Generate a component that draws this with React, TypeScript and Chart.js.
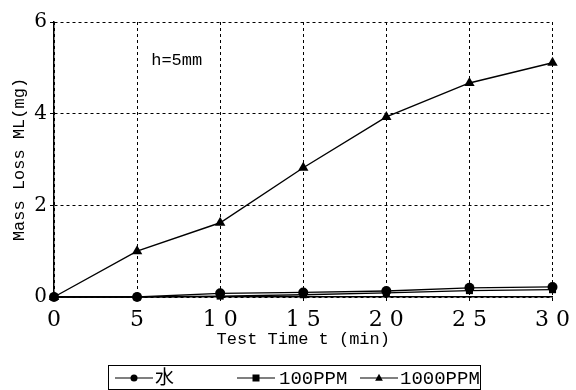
import React, { useEffect, useRef } from "react";
import { Chart, registerables } from "chart.js";

Chart.register(...registerables);

const times = [0, 5, 10, 15, 20, 25, 30];
const xTickLabels: Record<number, string> = { 0: "0", 5: "5", 10: "1 0", 15: "1 5", 20: "2 0", 25: "2 5", 30: "3 0" };
const waterValues = [0, 0, 0.08, 0.1, 0.13, 0.2, 0.22];
const ppm100Values = [0, 0, 0.02, 0.05, 0.09, 0.14, 0.16];
const ppm1000Values = [0, 1.0, 1.62, 2.82, 3.93, 4.67, 5.11];
const seriesNames = ["水", "100PPM", "1000PPM"];
const annotationText = "h=5mm";

const MONO = "'Liberation Mono', 'Noto Sans CJK JP', monospace";
const SERIF = "'DejaVu Serif', 'Liberation Serif', serif";

function drawMarker(ctx: CanvasRenderingContext2D, style: string, x: number, y: number, r: number) {
  ctx.beginPath();
  if (style === "circle") {
    ctx.arc(x, y, r, 0, Math.PI * 2);
  } else if (style === "rect") {
    ctx.rect(x - r, y - r, 2 * r, 2 * r);
  } else {
    ctx.moveTo(x, y - r * 1.2);
    ctx.lineTo(x + r * 1.1, y + r * 0.8);
    ctx.lineTo(x - r * 1.1, y + r * 0.8);
    ctx.closePath();
  }
  ctx.fill();
}

const legendPlugin = {
  id: "customLegend",
  afterDraw(chart: any) {
    const ctx = chart.ctx as CanvasRenderingContext2D;
    ctx.save();
    ctx.strokeStyle = "#000";
    ctx.lineWidth = 1;
    ctx.strokeRect(108.5, 365.5, 372, 24);
    const items = [
      { lx: 115, tx: 155 },
      { lx: 237, tx: 279 },
      { lx: 360, tx: 400 },
    ];
    const styles = ["circle", "rect", "triangle"];
    const cy = 378;
    ctx.fillStyle = "#000";
    items.forEach((it, i) => {
      ctx.beginPath();
      ctx.lineWidth = 1.2;
      ctx.moveTo(it.lx, cy);
      ctx.lineTo(it.lx + 38, cy);
      ctx.stroke();
      drawMarker(ctx, styles[i], it.lx + 19, cy, 3.5);
      ctx.font = `19px ${MONO}`;
      ctx.textBaseline = "middle";
      ctx.textAlign = "left";
      ctx.fillText(chart.data.datasets[i].label, it.tx, cy + 1);
    });
    // annotation
    const xs = chart.scales.x;
    const ys = chart.scales.y;
    ctx.font = `17px ${MONO}`;
    ctx.textBaseline = "middle";
    ctx.fillText(annotationText, xs.getPixelForValue(5.85), ys.getPixelForValue(5.15));
    ctx.restore();
  },
};

export default function App() {
  const ref = useRef<HTMLCanvasElement | null>(null);
  useEffect(() => {
    document.body.style.margin = "0";
    const ctx = ref.current!;
    const mk = (label: string, vals: number[], style: string, r: number) => ({
      label,
      data: times.map((t, i) => ({ x: t, y: vals[i] })),
      borderColor: "#000",
      backgroundColor: "#000",
      borderWidth: 1.4,
      pointStyle: style,
      pointRadius: r,
      pointBorderWidth: 0,
      clip: false as any,
      tension: 0,
    });
    const chart = new Chart(ctx, {
      type: "line",
      data: {
        datasets: [
          mk(seriesNames[0], waterValues, "circle", 5),
          mk(seriesNames[1], ppm100Values, "rect", 5),
          mk(seriesNames[2], ppm1000Values, "triangle", 6),
        ],
      },
      options: {
        animation: false,
        responsive: false,
        layout: { padding: { left: 0, right: 16, top: 22, bottom: 40 } },
        plugins: { legend: { display: false }, tooltip: { enabled: false } },
        scales: {
          x: {
            type: "linear",
            min: 0,
            max: 30,
            afterFit: (s: any) => { s.height = 53; },
            ticks: {
              stepSize: 5,
              color: "#000",
              font: { family: SERIF, size: 22 },
              padding: 6,
              maxRotation: 0,
              callback: (v: any) => xTickLabels[v as number] ?? String(v),
            },
            grid: { color: "#000", lineWidth: 1, tickLength: 4 },
            border: { display: true, color: "#000", width: 1.5, dash: [3, 3] },
            title: {
              display: true,
              text: "Test Time t (min)",
              color: "#000",
              font: { family: MONO, size: 17 },
              padding: { top: 0, bottom: 0 },
            },
          },
          y: {
            min: 0,
            max: 6,
            afterFit: (s: any) => { s.width = 54; },
            ticks: {
              stepSize: 2,
              color: "#000",
              font: { family: SERIF, size: 20 },
              padding: 3,
            },
            grid: { color: "#000", lineWidth: 1, tickLength: 4 },
            border: { display: true, color: "#000", width: 1.5, dash: [3, 3] },
            title: {
              display: true,
              text: "Mass Loss ML(mg)",
              color: "#000",
              font: { family: MONO, size: 17 },
              padding: { top: 9, bottom: 0 },
            },
          },
        },
      },
      plugins: [legendPlugin],
    } as any);
    return () => chart.destroy();
  }, []);
  return (
    <div style={{ width: 576, height: 390, background: "#fff" }}>
      <canvas ref={ref} width={576} height={390} />
    </div>
  );
}
